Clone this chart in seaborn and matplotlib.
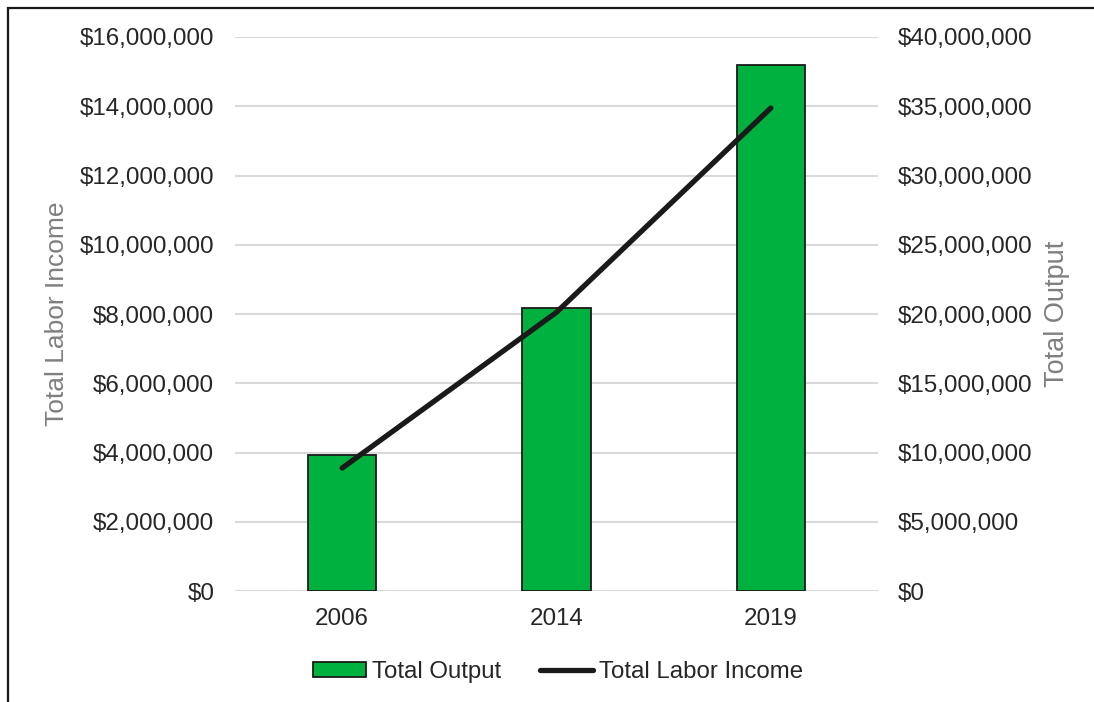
import matplotlib
matplotlib.use("Agg")
import matplotlib.pyplot as plt
from matplotlib.ticker import FuncFormatter, MultipleLocator
from matplotlib.patches import Rectangle
from matplotlib.lines import Line2D
from matplotlib.transforms import blended_transform_factory
import seaborn as sns
import pandas as pd

# Economic impact by year
years = ["2006", "2014", "2019"]
total_output = [9_850_000, 20_450_000, 38_000_000]        # right axis, bars
total_labor_income = [3_550_000, 8_050_000, 13_950_000]   # left axis, line

df = pd.DataFrame({"Year": years,
                   "Total Output": total_output,
                   "Total Labor Income": total_labor_income})

sns.set_theme(style="white")
plt.rcParams["font.family"] = ["Liberation Sans", "DejaVu Sans"]

TEXT = "#262626"
AXIS_TITLE = "#7f7f7f"
GRID = "#d9d9d9"
GREEN = "#00b140"

fig = plt.figure(figsize=(10.94, 7.02), dpi=100)
ax = fig.add_axes([235 / 1094, 1 - 591 / 702, (878 - 235) / 1094, (591 - 37) / 702])
ax2 = ax.twinx()

# Bars on the secondary (right) axis
sns.barplot(data=df, x="Year", y="Total Output", ax=ax2, color=GREEN,
            width=0.32, edgecolor="#1a1a1a", linewidth=1.3, saturation=1, zorder=2)
# Line on the primary (left) axis
sns.lineplot(data=df, x="Year", y="Total Labor Income", ax=ax, color="#1a1a1a",
             linewidth=3.8, solid_capstyle="round", sort=False)

# Line in front of the bars
ax.set_zorder(ax2.get_zorder() + 1)
ax.patch.set_visible(False)

ax.set_ylim(0, 16_000_000)
ax2.set_ylim(0, 40_000_000)
ax.set_xlim(-0.5, 2.5)
ax.yaxis.set_major_locator(MultipleLocator(2_000_000))
ax2.yaxis.set_major_locator(MultipleLocator(5_000_000))
money = FuncFormatter(lambda v, _: f"${v:,.0f}")
ax.yaxis.set_major_formatter(money)
ax2.yaxis.set_major_formatter(money)

# Gridlines sit behind the bars (both scales share the same 8 divisions)
ax.grid(False)
ax2.set_axisbelow(True)
ax2.grid(axis="y", color=GRID, linewidth=1.5, zorder=0)
ax2.grid(axis="x", visible=False)
for a in (ax, ax2):
    for s in a.spines.values():
        s.set_visible(False)
    a.tick_params(axis="both", length=0, labelsize=17.4, colors=TEXT)
ax.tick_params(axis="y", pad=15)
ax2.tick_params(axis="y", pad=14.5)
ax.tick_params(axis="x", pad=12)
ax2.tick_params(axis="x", labelbottom=False)

ax.set_xlabel("")
ax2.set_xlabel("")
ax.set_ylabel("Total Labor Income", fontsize=19, color=AXIS_TITLE)
ax2.set_ylabel("Total Output", fontsize=19.5, color=AXIS_TITLE, rotation=90)
ax.yaxis.set_label_coords(57 / 1094, 0.5,
                          transform=blended_transform_factory(fig.transFigure, ax.transAxes))
ax2.yaxis.set_label_coords(1057 / 1094, 0.5,
                           transform=blended_transform_factory(fig.transFigure, ax2.transAxes))
ax.yaxis.label.set_verticalalignment("center")
ax2.yaxis.label.set_verticalalignment("center")

# Legend below the plot
handles = [Rectangle((0, 0), 1, 1, facecolor=GREEN, edgecolor="#1a1a1a", linewidth=1.3),
           Line2D([0], [0], color="#1a1a1a", linewidth=3.8, solid_capstyle="round")]
fig.legend(handles, ["Total Output", "Total Labor Income"],
           loc="center", bbox_to_anchor=(558 / 1094, 1 - 672 / 702),
           ncol=2, frameon=False, fontsize=17.3, handlelength=2.2, handleheight=0.55,
           handletextpad=0.25, columnspacing=1.6, labelcolor=TEXT)

# Outer chart frame
fig.add_artist(Rectangle((8 / 1094, -0.2), 1.5, 1.2 - 8 / 702,
                         transform=fig.transFigure, fill=False,
                         edgecolor="#1a1a1a", linewidth=1.6, clip_on=False))

fig.savefig("out.png", dpi=100)
